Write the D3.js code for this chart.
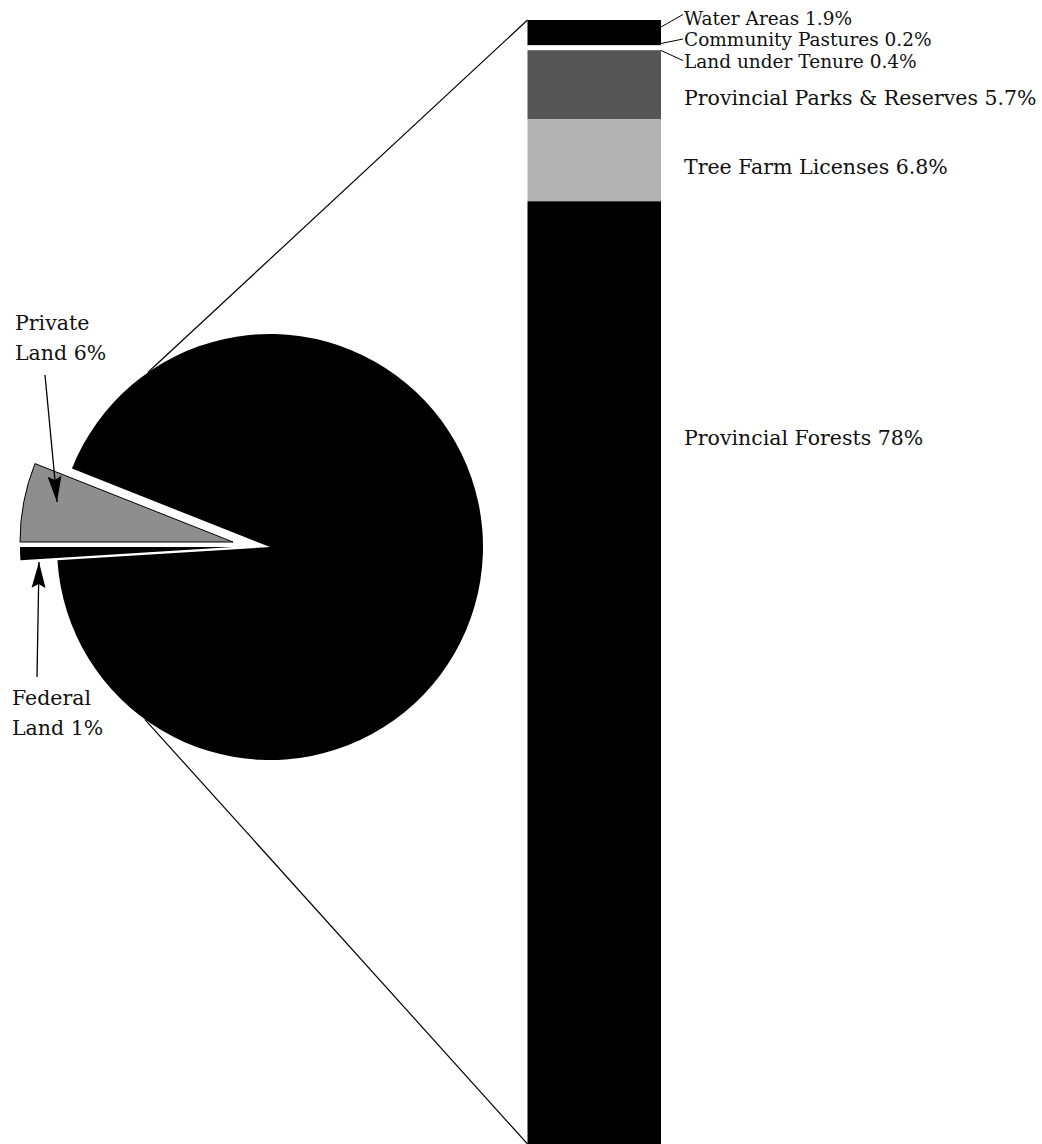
<!DOCTYPE html>
<html>

<head>
    <meta charset='utf-8'>
    <title>Land ownership</title>
    <script type='text/javascript' src='https://cdn.jsdelivr.net/npm/d3@7/dist/d3.min.js'></script>
    <style>
        body { margin: 0; background: #fff; }
        text { font-family: 'DejaVu Serif', serif; font-size: 20.5px; fill: #111; }
    </style>
</head>

<body>
    <svg width='1042' height='1144'></svg>
    <script type='text/javascript'>

        // pie: whole province
        const pieCategories = ['Federal Land', 'Private Land', 'Provincial Crown Land']
        const pieValues = [1, 6, 93]

        // bar: breakdown of the crown land slice
        const barCategories = ['Water Areas', 'Community Pastures', 'Land under Tenure',
            'Provincial Parks & Reserves', 'Tree Farm Licenses', 'Provincial Forests']
        const barValues = [1.9, 0.2, 0.4, 5.7, 6.8, 78]

        const svg = d3.select('svg')

        const cx = 270, cy = 547, r = 213
        const pieFill = ['#000', '#8e8e8e', '#000']
        const pieStroke = ['none', '#000', 'none']
        const explode = [[-37, 0], [-37, -5], [0, 0]]

        const barX = 527.5, barW = 133.5, barTop = 20, barBottom = 1144
        const barFill = ['#000', '#000', '#fff', '#555', '#b2b2b2', '#000']

        // --- pie ---
        // federal slice sits just under 9 o'clock, private just above
        const start = 1.5 * Math.PI - pieValues[0] / d3.sum(pieValues) * 2 * Math.PI
        const pie = d3.pie().sort(null).startAngle(start).endAngle(start + 2 * Math.PI)
        const arcs = pie(pieValues)
        const arc = d3.arc().innerRadius(0).outerRadius(r)

        svg.append('g')
            .attr('transform', `translate(${cx},${cy})`)
            .selectAll('path')
            .data(arcs)
            .join('path')
            .attr('transform', (d, i) => `translate(${explode[i][0]},${explode[i][1]})`)
            .attr('d', arc)
            .attr('fill', (d, i) => pieFill[i])
            .attr('stroke', (d, i) => pieStroke[i])
            .attr('stroke-width', 1)

        // --- bar ---
        const y = d3.scaleLinear().domain([0, d3.sum(barValues)]).range([barTop, barBottom])
        const cum = d3.cumsum(barValues)
        const segs = barValues.map((v, i) => ({ name: barCategories[i], value: v, y0: cum[i] - v, y1: cum[i] }))

        svg.append('g')
            .selectAll('rect')
            .data(segs)
            .join('rect')
            .attr('x', barX)
            .attr('width', barW)
            .attr('y', d => y(d.y0))
            .attr('height', d => y(d.y1) - y(d.y0))
            .attr('fill', (d, i) => barFill[i])

        // connector lines pie -> bar
        const joinAngles = [-35 * Math.PI / 180, -144 * Math.PI / 180]
        const barEnds = [y(0), y(d3.sum(barValues))]
        svg.append('g')
            .attr('stroke', '#000')
            .attr('stroke-width', 1.2)
            .selectAll('line')
            .data(joinAngles)
            .join('line')
            .attr('x1', a => cx + r * Math.sin(a))
            .attr('y1', a => cy - r * Math.cos(a))
            .attr('x2', barX)
            .attr('y2', (a, i) => barEnds[i])

        // bar labels (the three thin slivers get leader lines, stacked tight)
        const labelX = 684
        const labelY = [24.5, 46, 67.5, 105, 174, 445]
        const labelSize = [18.5, 18.5, 18.5, 20.5, 20.5, 20.5]
        const leaderCount = 3
        const labelG = svg.append('g')
        labelG.selectAll('line')
            .data(segs.slice(0, leaderCount))
            .join('line')
            .attr('x1', barX + barW)
            .attr('y1', (d, i) => [27, 43.5, 50.5][i])
            .attr('x2', labelX - 1)
            .attr('y2', (d, i) => labelY[i] - [10, 7, 7][i])
            .attr('stroke', '#000')
            .attr('stroke-width', 1)
        labelG.selectAll('text')
            .data(segs)
            .join('text')
            .attr('x', labelX)
            .attr('y', (d, i) => labelY[i])
            .style('font-size', (d, i) => labelSize[i] + 'px')
            .text(d => `${d.name} ${d.value}%`)

        // pie labels with arrows
        svg.append('defs').append('marker')
            .attr('id', 'head')
            .attr('markerUnits', 'userSpaceOnUse')
            .attr('markerWidth', 28).attr('markerHeight', 16)
            .attr('viewBox', '0 -8 28 16')
            .attr('refX', 26).attr('refY', 0)
            .attr('orient', 'auto')
            .append('path')
            .attr('d', 'M0,-7L26,0L0,7L4,0Z')
            .attr('fill', '#000')

        const pieLabels = [
            { i: 0, x: 12, y: 705, arrow: [37, 677, 39, 562] },
            { i: 1, x: 15, y: 330, arrow: [45, 375, 57, 502] }
        ]
        const pl = svg.append('g').selectAll('g')
            .data(pieLabels)
            .join('g')
        pl.append('line')
            .attr('x1', d => d.arrow[0]).attr('y1', d => d.arrow[1])
            .attr('x2', d => d.arrow[2]).attr('y2', d => d.arrow[3])
            .attr('stroke', '#000')
            .attr('stroke-width', 1.3)
            .attr('marker-end', 'url(#head)')
        const t = pl.append('text')
            .attr('x', d => d.x)
            .attr('y', d => d.y)
        t.append('tspan')
            .text(d => pieCategories[d.i].split(' ')[0])
        t.append('tspan')
            .attr('x', d => d.x)
            .attr('dy', 30)
            .text(d => `${pieCategories[d.i].split(' ')[1]} ${pieValues[d.i]}%`)
    </script>
</body>

</html>
